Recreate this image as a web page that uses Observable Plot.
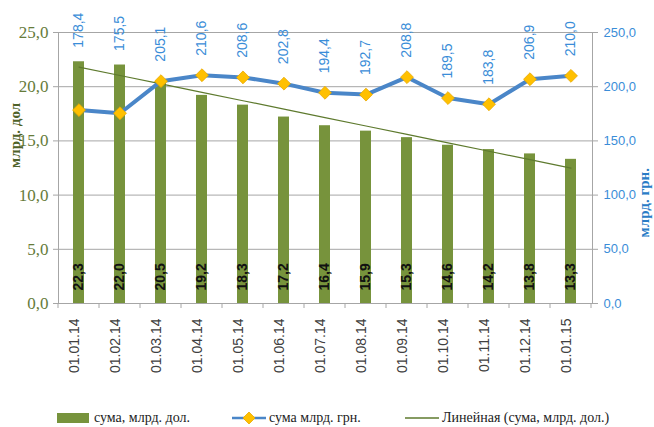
<!DOCTYPE html>
<html><head><meta charset="utf-8">
<script src="https://cdn.jsdelivr.net/npm/d3@7"></script>
<script src="https://cdn.jsdelivr.net/npm/@observablehq/plot@0.6"></script>
<style>
body{margin:0;background:#fff;width:654px;height:427px;overflow:hidden}
#chart svg{display:block}
#legend{position:relative;height:35px;font-family:"Liberation Serif",serif;font-size:14px;color:#222}
.item{position:absolute;top:17px;height:18px;display:flex;align-items:center;white-space:nowrap}
.item svg{display:block;margin-right:3px}
g[aria-label="xlabels"] text, g[aria-label="usdlabels"] text{letter-spacing:1px}
g[aria-label="uahlabels"] text{letter-spacing:0.6px}
</style></head>
<body><div id="chart"></div><div id="legend"></div>
<script>
const dates = ["01.01.14","01.02.14","01.03.14","01.04.14","01.05.14","01.06.14","01.07.14","01.08.14","01.09.14","01.10.14","01.11.14","01.12.14","01.01.15"];
const usd = [22.3,22.0,20.5,19.2,18.3,17.2,16.4,15.9,15.3,14.6,14.2,13.8,13.3];
const uah = [178.4,175.5,205.1,210.6,208.6,202.8,194.4,192.7,208.8,189.5,183.8,206.9,210.0];
const leftTicks = [0,5,10,15,20,25];
const rightTicks = [0,50,100,150,200,250];
const ratio = 10; // right axis / left axis

const fmt1 = v => v.toFixed(1).replace(".", ",");

// linear trend of the USD series
const idx = d3.range(usd.length);
const mx = d3.mean(idx), my = d3.mean(usd);
const slope = d3.sum(idx, i => (i - mx) * (usd[i] - my)) / d3.sum(idx, i => (i - mx) ** 2);

const rows = dates.map((d, i) => ({date: d, usd: usd[i], uah: uah[i], trend: my + slope * (i - mx)}));

const GREEN = "#77933C", BLUE = "#4A86C8", GOLD = "#FFC000";

const chart = Plot.plot({
  width: 654, height: 392,
  marginLeft: 58, marginRight: 62, marginTop: 32, marginBottom: 89,
  style: {fontFamily: "Liberation Sans, sans-serif", background: "white"},
  x: {type: "band", domain: dates, paddingInner: 0.73, paddingOuter: 0.365, axis: null, label: null},
  y: {domain: [0, 25], label: null},
  marks: [
    Plot.gridY(leftTicks, {stroke: "#A6A6A6", strokeOpacity: 1}),
    Plot.frame({stroke: "#A6A6A6"}),
    Plot.barY(rows, {x: "date", y: "usd", fill: GREEN}),
    Plot.line(rows, {x: "date", y: "trend", stroke: "#5E7A2E", strokeWidth: 1.2}),
    Plot.line(rows, {x: "date", y: d => d.uah / ratio, stroke: BLUE, strokeWidth: 4, strokeLinejoin: "round"}),
    Plot.dot(rows, {x: "date", y: d => d.uah / ratio, symbol: "diamond2", r: 5.8, fill: GOLD, stroke: "#E8A800", strokeWidth: 0.8}),
    Plot.text(rows, {ariaLabel: "usdlabels", x: "date", y: 0, dy: -13, text: d => fmt1(d.usd), rotate: -90, textAnchor: "start",
      fill: "#111", fontSize: 14, fontWeight: 600, fontFamily: "Liberation Sans"}),
    Plot.text(rows, {ariaLabel: "uahlabels", x: "date", y: d => Math.max(d.uah / ratio + 1.8, d.usd + 1.3), text: d => fmt1(d.uah),
      rotate: -90, textAnchor: "start", fill: "#3A8DD8", fontSize: 14, fontFamily: "Liberation Sans"}),
    Plot.text(dates, {ariaLabel: "xlabels", x: d => d, frameAnchor: "bottom", dy: 15, rotate: -90, textAnchor: "end",
      fill: "#404040", fontSize: 14, fontFamily: "Liberation Sans"}),
    Plot.axisY(leftTicks, {anchor: "left", label: null, tickSize: 5, tickPadding: 5, tickFormat: fmt1,
      stroke: "#A6A6A6", fill: "#667B3A", fontSize: 17, fontFamily: "Liberation Serif"}),
    Plot.axisY(leftTicks, {anchor: "right", label: null, tickSize: 5, tickPadding: 6, tickFormat: d => fmt1(d * ratio),
      stroke: "#A6A6A6", fill: "#3A8DD8", fontSize: 13, fontFamily: "Liberation Sans"}),
    Plot.text(["млрд. дол"], {frameAnchor: "left", dx: -43, rotate: -90, fill: "#4F6228", fontWeight: "bold",
      fontSize: 15, fontFamily: "Liberation Serif"}),
    Plot.text(["млрд. грн."], {frameAnchor: "right", dx: 52, rotate: -90, fill: "#2A7CC6", fontWeight: "bold",
      fontSize: 15, fontFamily: "Liberation Serif"})
  ]
});

// category boundary ticks on the x axis, placed via the plot's own scales
const xs = chart.scale("x"), ys = chart.scale("y");
const y0 = ys.apply(0);
const g = d3.select(chart).append("g").attr("stroke", "#A6A6A6");
dates.forEach((d, i) => {
  const left = xs.apply(d) + xs.bandwidth / 2 - xs.step / 2;
  g.append("line").attr("x1", left).attr("x2", left).attr("y1", y0).attr("y2", y0 + 5);
  if (i === dates.length - 1) {
    const right = left + xs.step;
    g.append("line").attr("x1", right).attr("x2", right).attr("y1", y0).attr("y2", y0 + 5);
  }
});

document.getElementById("chart").appendChild(chart);

// legend
const legend = d3.select("#legend");
const items = [
  {left: 57, label: "сума, млрд. дол.", draw: s => s.append("rect").attr("x", 0).attr("y", 4).attr("width", 32).attr("height", 10).attr("fill", GREEN)},
  {left: 232, label: "сума млрд. грн.", draw: s => {
    s.append("line").attr("x1", 0).attr("x2", 34).attr("y1", 9).attr("y2", 9).attr("stroke", BLUE).attr("stroke-width", 2.5);
    s.append("path").attr("d", "M17,3L23,9L17,15L11,9Z").attr("fill", GOLD).attr("stroke", "#E8A800").attr("stroke-width", 0.8);
  }},
  {left: 405, label: "Линейная (сума, млрд. дол.)", draw: s => s.append("line").attr("x1", 0).attr("x2", 34).attr("y1", 9).attr("y2", 9).attr("stroke", "#5E7A2E").attr("stroke-width", 1.5)}
];
items.forEach(it => {
  const div = legend.append("div").attr("class", "item").style("left", it.left + "px");
  const s = div.append("svg").attr("width", 34).attr("height", 18);
  it.draw(s);
  div.append("span").text(it.label);
});
</script>
</body></html>
